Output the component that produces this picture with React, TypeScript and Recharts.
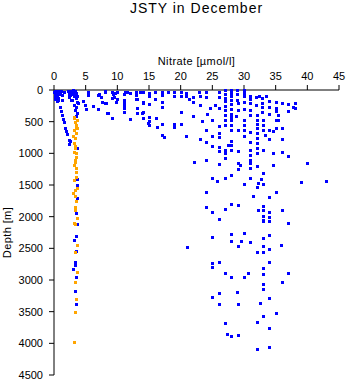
import React from 'react';
import { ScatterChart, Scatter, XAxis, YAxis } from 'recharts';

const titleText = 'JSTY in December';
const xLabel = 'Nitrate [µmol/l]';
const yLabel = 'Depth [m]';
const xTicks = [0, 5, 10, 15, 20, 25, 30, 35, 40, 45];
const yTicks = [0, 500, 1000, 1500, 2000, 2500, 3000, 3500, 4000, 4500];

// [nitrate, depth]
const blueSurface: [number, number][] = [
  [0.1, 10], [0.3, 30], [0.5, 15], [0.2, 60], [0.6, 50], [0.1, 100], [0.4, 90], [0.8, 20],
  [0.2, 140], [1.0, 40], [1.2, 80], [0.7, 120], [1.5, 25], [1.3, 150], [0.5, 180], [0.9, 70],
  [0.05, 30], [0.3, 120], [1.1, 10], [0.6, 160],
  [2.2, 20], [2.5, 10], [2.8, 40], [3.0, 60], [3.3, 20], [3.5, 45], [2.6, 80], [3.1, 100],
  [3.4, 130], [2.9, 160], [3.6, 190], [3.2, 230], [2.4, 110], [3.5, 270], [3.3, 320], [3.6, 360],
  [3.4, 410], [2.7, 150], [3.0, 5], [3.7, 90], [2.3, 60], [3.8, 210],
  [1.0, 270], [1.1, 330], [1.2, 400], [1.4, 450], [1.6, 500], [1.8, 600], [1.9, 640], [2.0, 700],
  [2.3, 790], [2.6, 800], [2.4, 857],
];

const blueColumn: [number, number][] = [
  [3.7, 920], [3.4, 1060], [3.3, 1105], [3.6, 1405], [3.6, 1500], [3.7, 1705], [3.3, 1863],
  [3.5, 1937], [3.6, 2116], [3.4, 2300], [3.1, 2368], [3.5, 2537], [3.3, 2716], [3.3, 2763],
  [3.0, 2826], [3.5, 2948], [3.3, 3174], [3.5, 3379],
];

const blueUpper: [number, number][] = [
  [5.3, 30], [4.5, 174], [4.85, 237], [5.1, 300], [6.1, 253], [6.9, 300], [7.1, 63], [5.4, 79],
  [7.0, 79], [8.0, 16], [8.0, 205], [8.4, 368], [9.1, 442], [9.1, 126], [11, 150], [11, 200],
  [12.9, 142], [13.9, 363], [14.0, 205], [14.8, 520],
  [7.4, 105], [7.5, 184], [8.0, 26], [8.2, 210], [9.1, 26], [9.3, 60], [9.6, 40], [9.9, 26],
  [9.4, 105], [9.75, 184], [9.95, 147], [8.5, 368], [9.2, 437], [11.2, 26], [11.1, 60], [11.5, 26],
  [11.0, 240], [11.0, 290], [11.06, 353], [12, 42], [12, 463], [13.0, 26], [13.0, 79], [13.1, 137],
  [13.1, 290], [13.1, 370], [13.5, 26], [14.0, 26], [14.06, 184], [14.06, 353], [14.06, 447],
  [15, 50], [15, 100], [15, 221], [15, 421], [15, 490], [15, 553], [16, 26], [16, 147], [16.07, 447],
  [16.2, 589], [17, 26], [17, 79], [17.06, 184], [17.06, 273], [17.06, 537], [17.1, 711], [17.4, 747],
  [18, 26], [18.9, 26], [18.9, 95], [18.9, 537], [18.9, 579], [20, 26], [20, 95], [20, 353], [20, 537],
  [20.9, 50], [20.9, 95], [20.9, 726], [21.3, 147], [21.9, 105], [21.9, 184], [21.96, 410],
  [22.07, 1132], [22.9, 26], [23, 95], [23, 237], [23.3, 484], [23.0, 779], [24, 26], [24, 105],
  [24.2, 384], [24, 632], [24, 816], [24, 1105], [24, 1616], [24, 1853], [24.9, 1932], [24.7, 290],
  [25.0, 474], [25.0, 726], [25.0, 884], [25.0, 1384], [25.4, 237], [25.75, 1437], [26, 26],
  [26, 105], [26, 290], [26, 568], [26, 680], [26, 747], [26, 900], [26, 963], [26, 1174], [26, 2042],
  [27, 0], [27, 60], [27, 120], [27, 180], [27, 250], [27, 320], [27, 400], [27, 480], [27, 560],
  [27, 947], [27, 1000], [27, 1079], [27, 1384], [27, 1884], [27.5, 868],
];

const blueRight: [number, number][] = [
  [28, 0], [28, 50], [28, 100], [28, 160], [28, 220], [28, 300], [28, 380], [28, 420], [28, 474],
  [28, 550], [28, 632], [28, 805], [28, 870], [28, 947], [28, 1347],
  [28.9, 0], [28.9, 60], [28.9, 158], [29.1, 210], [29, 316], [28.8, 410], [29, 632], [29, 963],
  [29.1, 1153], [29.1, 1247], [29.3, 1190],
  [30, 0], [30, 40], [30, 100], [30, 184], [30, 305], [30, 474], [30, 550], [30, 632], [30, 726], [30, 1490],
  [30.9, 95], [30.9, 147], [30.9, 210], [30.9, 316], [30.9, 395], [30.9, 658], [30.9, 816], [30.9, 947],
  [30.9, 1026], [30.9, 1153], [30.9, 1232], [30.9, 1395], [31, 1105], [31.4, 1669],
  [31.9, 105], [31.9, 237], [32, 395], [32, 480], [32, 540], [32, 605], [32, 684], [32, 760], [32, 840],
  [32, 920], [32, 1000], [32.1, 1200], [32.2, 1474], [32, 1527], [32.4, 95], [32.66, 1410],
  [32.9, 131], [32.9, 200], [32.9, 270], [32.9, 342], [33, 474], [33, 553], [33, 632], [33, 947],
  [33, 1316], [33, 1490], [33, 1830], [33, 1900], [33, 1985], [33, 2050], [33.3, 711], [33.4, 95],
  [34, 168], [34, 263], [34, 384], [34, 630], [34, 779], [34, 1695], [34, 1921], [34, 2000], [34, 2069],
  [34.5, 642], [34.5, 1000], [34.6, 1190],
  [35, 184], [35, 284], [35, 326], [35, 474], [35, 1616], [35.3, 395], [35.4, 474], [35.1, 595],
  [36, 210], [36, 595], [36, 779], [36, 974], [36, 1895], [36.9, 221], [36.9, 326], [37, 1042],
  [37, 2095], [37.8, 263], [38, 200], [38, 290], [39, 1447], [40, 1158], [43, 1437],
];

const blueDeep: [number, number][] = [
  [28, 1805], [29, 1811], [32.2, 1890], [36, 1900],
  [25, 2316], [21, 2484], [27.9, 2274], [28, 2390], [29, 2468], [29.5, 2379], [30, 2263], [30.9, 2405],
  [32, 2553], [33, 2342], [33, 2463], [33, 2563], [34, 2295], [34, 2511], [34, 2074], [33, 2063],
  [35.8, 2447], [25, 2732], [25, 2790], [26, 2721], [27, 2885], [28, 2958], [30, 2948], [30.6, 2885],
  [33, 2816], [33, 2905], [34, 2721], [37, 2895], [36, 3037], [33, 3068], [33, 3142], [34, 3290],
  [32.5, 3368], [28.9, 3184], [26, 3211], [25, 3274], [26, 3384], [29, 3384], [35, 3527], [33, 3574],
  [32, 3658], [27, 3685], [34, 3763], [27.3, 3848], [28, 3885], [29.1, 3869], [32, 4084], [34, 4063],
];

const orangePoints: [number, number][] = [
  [3.2, 420], [3.1, 448], [3.6, 470], [3.27, 500], [3.5, 553], [3.4, 590], [3.7, 600], [3.1, 632],
  [3.43, 684], [3.0, 720], [3.27, 763], [3.1, 842], [3.3, 880], [3.27, 921], [3.1, 974], [3.5, 1000],
  [3.43, 1053], [3.27, 1105], [3.27, 1132], [3.2, 1180], [3.4, 1230], [3.5, 1290], [3.43, 1369],
  [3.2, 1421], [3.6, 1550], [3.27, 1580], [3.0, 1632], [3.3, 1674], [3.5, 1747], [3.3, 1843],
  [3.27, 1895], [3.64, 2016], [3.2, 2095], [3.3, 2121], [3.64, 2447], [3.3, 2553], [3.64, 2879],
  [3.3, 3037], [3.5, 3300], [3.3, 3500], [3.16, 3974],
];

const toRows = (arr: [number, number][]) => arr.map(([n, d]) => ({ n, d }));
const blueData = toRows([...blueSurface, ...blueColumn, ...blueUpper, ...blueRight, ...blueDeep]);
const orangeData = toRows(orangePoints);

const BLUE = '#0000FF';
const ORANGE = '#FFA500';

const makeShape = (color: string) => (p: any) => (
  <rect
    x={Math.round(p.cx) - 1.5}
    y={Math.round(p.cy) - 1.5}
    width={3}
    height={3}
    fill={color}
    shapeRendering="crispEdges"
  />
);

const FONT = '"Liberation Sans", Arial, Helvetica, sans-serif';

export default function App() {
  return (
    <div
      style={{
        position: 'absolute',
        left: 0,
        top: 0,
        width: 348,
        height: 384,
        background: '#fff',
        fontFamily: FONT,
      }}
    >
      <ScatterChart width={348} height={384} margin={{ top: 50, right: 9, bottom: 9, left: 0 }} style={{ fontFamily: FONT }}>
        <XAxis
          type="number"
          dataKey="n"
          orientation="top"
          domain={[0, 45]}
          ticks={xTicks}
          interval={0}
          height={40}
          stroke="#000"
          tickSize={5}
          tickMargin={5}
          tick={{ fontSize: 11, fill: '#000' }}
          label={{ value: xLabel, position: 'insideTop', offset: 7, fontSize: 11, fill: '#000', letterSpacing: 0.4 }}
        />
        <YAxis
          type="number"
          dataKey="d"
          domain={[0, 4500]}
          reversed
          ticks={yTicks}
          interval={0}
          width={54}
          stroke="#000"
          tickSize={5}
          tickMargin={6}
          tick={{ fontSize: 11, fill: '#000' }}
        />
        <Scatter data={blueData} isAnimationActive={false} shape={makeShape(BLUE)} />
        <Scatter data={orangeData} isAnimationActive={false} shape={makeShape(ORANGE)} />
      </ScatterChart>
      <div
        style={{
          position: 'absolute',
          left: 54,
          top: 0,
          width: 285,
          textAlign: 'center',
          fontSize: 14,
          lineHeight: '16px',
          letterSpacing: 1,
          color: '#000',
        }}
      >
        {titleText}
      </div>
      <svg
        width={30}
        height={384}
        style={{ position: 'absolute', left: 0, top: 0, pointerEvents: 'none' }}
      >
        <text
          transform="translate(10.5,232.5) rotate(-90)"
          textAnchor="middle"
          fontSize={11}
          letterSpacing={0.4}
          fill="#000"
          fontFamily={FONT}
        >
          {yLabel}
        </text>
      </svg>
    </div>
  );
}
